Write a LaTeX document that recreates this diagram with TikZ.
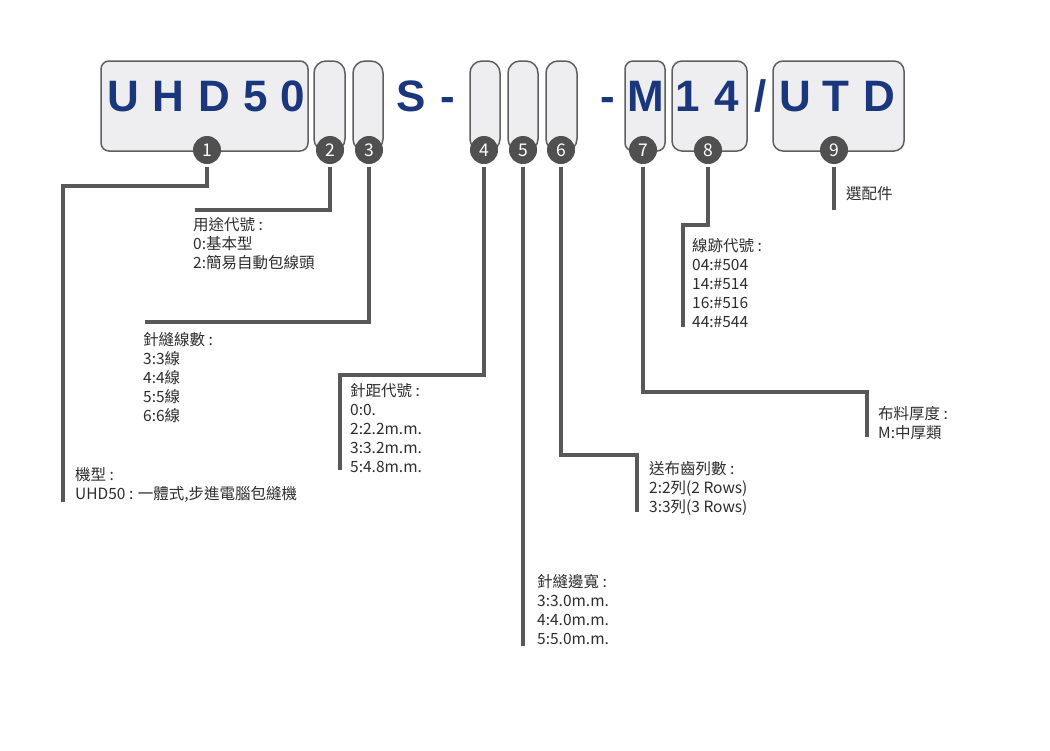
\documentclass[tikz,border=0pt]{standalone}
\usepackage{fontspec}
\setmainfont{Noto Sans CJK TC}
\newfontfamily\bigf{Liberation Sans}
\definecolor{boxfill}{RGB}{238,238,241}
\definecolor{boxline}{RGB}{95,95,95}
\definecolor{linec}{RGB}{88,88,88}
\definecolor{badgefill}{RGB}{80,80,80}
\definecolor{navy}{RGB}{26,54,125}
\definecolor{labc}{RGB}{45,45,45}
\begin{document}
\begin{tikzpicture}[x=1pt,y=-1pt,
  box/.style={draw=boxline, fill=boxfill, line width=1.5pt, rounded corners=#1, inner sep=0, minimum height=90pt},
  badge/.style={circle, fill=badgefill, text=white, minimum size=28pt, inner sep=0, font=\fontsize{17.5}{17.5}\selectfont},
  big/.style={anchor=base, inner sep=0, text=navy, font=\fontsize{44}{44}\bigf\bfseries},
  conn/.style={draw=linec, line width=3.5pt},
  lab/.style={anchor=base west, align=left, inner sep=0, text=labc, font=\fontsize{15.5}{19}\selectfont}]
\useasboundingbox[fill=white] (0,0) rectangle (1050,750);
% boxes
\node[box=8pt, minimum width=207pt] (b1) at (204.5,106) {};
\node[box=12pt, minimum width=31pt] (b2) at (329.5,106) {};
\node[box=12pt, minimum width=30pt] (b3) at (368,106) {};
\node[box=12pt, minimum width=30pt] (b4) at (485,106) {};
\node[box=12pt, minimum width=30pt] (b5) at (523,106) {};
\node[box=12pt, minimum width=31pt] (b6) at (561.5,106) {};
\node[box=8pt, minimum width=40pt] (b7) at (645,106) {};
\node[box=10pt, minimum width=75pt] (b8) at (709.5,106) {};
\node[box=10pt, minimum width=131pt] (b9) at (838.5,106) {};
% big letters
\node[big] (t1) at (123,111) {U};
\node[big] (t2) at (168.5,111) {H};
\node[big] (t3) at (214,111) {D};
\node[big] (t4) at (256,111) {5};
\node[big] (t5) at (293,111) {0};
\node[big] (t6) at (411,111) {S};
\node[big] (t7) at (448,111) {-};
\node[big] (t8) at (607.5,111) {-};
\node[big] (t9) at (646,111) {M};
\node[big] (t10) at (688,111) {1};
\node[big] (t11) at (727,111) {4};
\node[big] (t12) at (761,111) {/};
\node[big] (t13) at (795,111) {U};
\node[big] (t14) at (836,111) {T};
\node[big] (t15) at (879,111) {D};
% badges
\node[badge] (c1) at (207,150) {1};
\node[badge] (c2) at (330,150) {2};
\node[badge] (c3) at (369,150) {3};
\node[badge] (c4) at (484,150) {4};
\node[badge] (c5) at (523,150) {5};
\node[badge] (c6) at (561,150) {6};
\node[badge] (c7) at (643,150) {7};
\node[badge] (c8) at (708,150) {8};
\node[badge] (c9) at (834,150) {9};
% labels (anchor = baseline of last line)
\node[lab] (l1) at (75,499) {機型 :\\UHD50 : 一體式,步進電腦包縫機};
\node[lab] (l2) at (193,268) {用途代號 :\\0:基本型\\2:簡易自動包線頭};
\node[lab] (l3) at (143,421) {針縫線數 :\\3:3線\\4:4線\\5:5線\\6:6線};
\node[lab] (l4) at (350,472) {針距代號 :\\0:0.\\2:2.2m.m.\\3:3.2m.m.\\5:4.8m.m.};
\node[lab] (l5) at (537,644) {針縫邊寬 :\\3:3.0m.m.\\4:4.0m.m.\\5:5.0m.m.};
\node[lab] (l6) at (649,512) {送布齒列數 :\\2:2列(2 Rows)\\3:3列(3 Rows)};
\node[lab] (l7) at (878,438) {布料厚度 :\\M:中厚類};
\node[lab] (l8) at (692,327) {線跡代號 :\\04:\#504\\14:\#514\\16:\#516\\44:\#544};
\node[lab] (l9) at (846,199) {選配件};
% connector corner/end coordinates
\coordinate (j1) at (63,186);  \coordinate (e1) at (63,502);
\coordinate (e2) at (195,210);
\coordinate (e3) at (145,322);
\coordinate (j4) at (340,375); \coordinate (e4) at (340,470);
\coordinate (e5) at (523,646);
\coordinate (j6) at (637,455); \coordinate (e6) at (637,512);
\coordinate (j7) at (867,392); \coordinate (e7) at (867,437);
\coordinate (j8) at (683,225); \coordinate (e8) at (683,327);
\coordinate (e9) at (834,210);
% connectors
\draw[conn] ([yshift=-3pt]c1.south) |- (j1) -- (e1);
\draw[conn] ([yshift=-3pt]c2.south) |- (e2);
\draw[conn] ([yshift=-3pt]c3.south) |- (e3);
\draw[conn] ([yshift=-3pt]c4.south) |- (j4) -- (e4);
\draw[conn] ([yshift=-3pt]c5.south) -- (e5);
\draw[conn] ([yshift=-3pt]c6.south) |- (j6) -- (e6);
\draw[conn] ([yshift=-3pt]c7.south) |- (j7) -- (e7);
\draw[conn] ([yshift=-3pt]c8.south) |- (j8) -- (e8);
\draw[conn] ([yshift=-3pt]c9.south) -- (e9);
\end{tikzpicture}
\end{document}
